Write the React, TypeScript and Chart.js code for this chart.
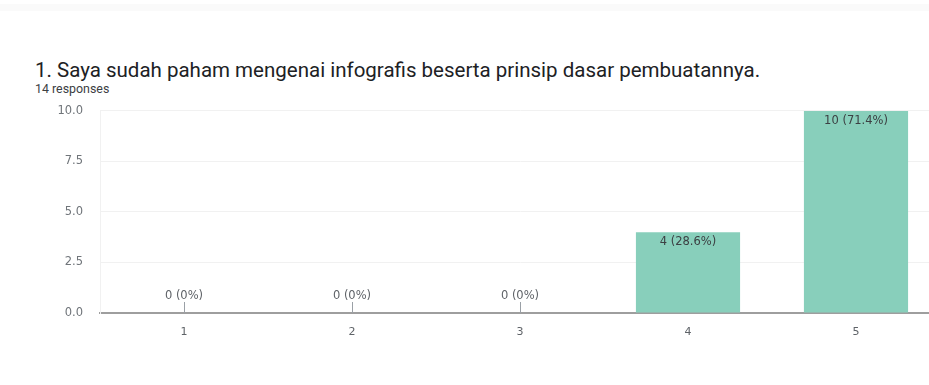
import React, { useEffect, useRef } from "react";
import { Chart, registerables } from "chart.js";

Chart.register(...registerables);

const questionTitle = "1. Saya sudah paham mengenai infografis beserta prinsip dasar pembuatannya.";
const responsesText = "14 responses";
const categories = ["1", "2", "3", "4", "5"];
const counts = [0, 0, 0, 4, 10];
const yTicks = [0, 2.5, 5, 7.5, 10];

const total = counts.reduce((a, b) => a + b, 0);
const labelFont = "11.5px 'DejaVu Sans', sans-serif";

const barLabelPlugin = {
  id: "barLabels",
  afterDatasetsDraw(chart: any) {
    const ctx = chart.ctx;
    const meta = chart.getDatasetMeta(0);
    ctx.save();
    ctx.font = labelFont;
    ctx.textAlign = "center";
    ctx.textBaseline = "middle";
    meta.data.forEach((el: any, i: number) => {
      const v = counts[i];
      const pct = total ? (v / total) * 100 : 0;
      const pctStr = v === 0 ? "0%" : pct.toFixed(1) + "%";
      const text = `${v} (${pctStr})`;
      if (v > 0) {
        ctx.fillStyle = "#3c4043";
        ctx.fillText(text, el.x, el.y + 10);
      } else {
        ctx.fillStyle = "#5f6368";
        ctx.fillText(text, el.x, el.base - 17);
        ctx.strokeStyle = "#9aa0a6";
        ctx.lineWidth = 1;
        ctx.beginPath();
        ctx.moveTo(Math.round(el.x) + 0.5, el.base - 11);
        ctx.lineTo(Math.round(el.x) + 0.5, el.base);
        ctx.stroke();
      }
    });
    ctx.restore();
  },
};

export default function App() {
  const canvasRef = useRef<HTMLCanvasElement | null>(null);

  useEffect(() => {
    if (!canvasRef.current) return;
    const chart = new Chart(canvasRef.current, {
      type: "bar",
      data: {
        labels: categories,
        datasets: [
          {
            data: counts,
            backgroundColor: "#88cfbb",
            borderWidth: 0,
            barPercentage: 0.62,
            categoryPercentage: 1,
          },
        ],
      },
      options: {
        animation: false,
        responsive: false,
        maintainAspectRatio: false,
        layout: { padding: { top: 7, right: 10, left: 0, bottom: 0 } },
        plugins: {
          legend: { display: false },
          tooltip: { enabled: false },
          title: { display: false },
        },
        scales: {
          x: {
            grid: { display: false, drawTicks: false },
            border: { display: true, color: "#9e9e9e", width: 2 },
            ticks: {
              color: "#5f6368",
              font: { size: 11, family: "'DejaVu Sans', sans-serif" },
              padding: 13,
            },
            afterFit: (s: any) => {
              s.height = 40;
            },
          },
          y: {
            min: 0,
            max: 10,
            afterBuildTicks: (s: any) => {
              s.ticks = yTicks.map((v) => ({ value: v }));
            },
            grid: { color: "#f1f1f1", drawTicks: false },
            border: { display: true, color: "#f1f1f1" },
            ticks: {
              color: "#70757a",
              font: { size: 11.5, family: "'DejaVu Sans', sans-serif" },
              padding: 17,
              callback: (v: any) => Number(v).toFixed(1),
            },
            afterFit: (s: any) => {
              s.width = 100;
            },
          },
        },
      },
      plugins: [barLabelPlugin],
    });
    return () => chart.destroy();
  }, []);

  return (
    <div
      style={{
        position: "fixed",
        left: 0,
        top: 0,
        width: 929,
        height: 385,
        overflow: "hidden",
        background: "#ffffff",
        fontFamily: "Roboto, 'Noto Sans', sans-serif",
      }}
    >
      <div
        style={{
          position: "absolute",
          left: 0,
          top: 4,
          width: 929,
          height: 7,
          background: "#fafafa",
        }}
      />
      <div
        style={{
          position: "absolute",
          left: 35,
          top: 58,
          fontSize: 20.5,
          lineHeight: "24px",
          color: "#202124",
          whiteSpace: "nowrap",
        }}
      >
        {questionTitle}
      </div>
      <div
        style={{
          position: "absolute",
          left: 35,
          top: 81,
          fontSize: 12.4,
          color: "#3c4043",
          whiteSpace: "nowrap",
        }}
      >
        {responsesText}
      </div>
      <canvas
        ref={canvasRef}
        width={950}
        height={266}
        style={{ position: "absolute", left: 0, top: 87, width: 950, height: 266 }}
      />
    </div>
  );
}
